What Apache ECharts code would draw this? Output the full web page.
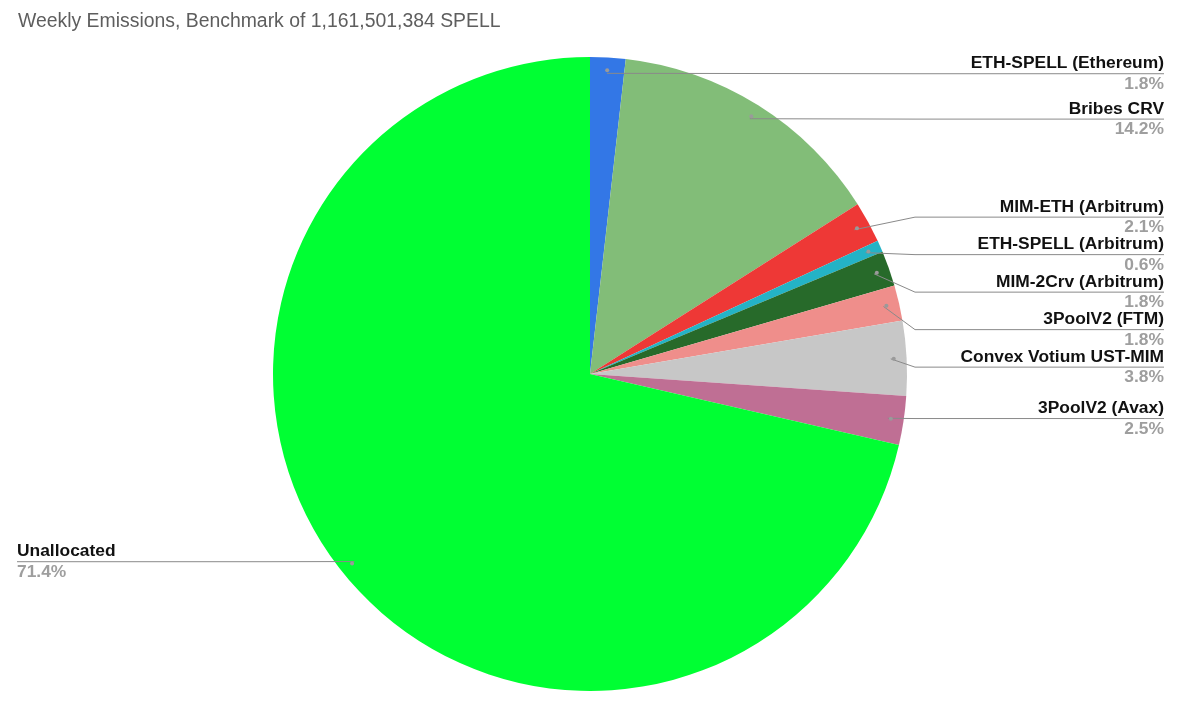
<!DOCTYPE html>
<html>
<head>
<meta charset="utf-8">
<script src="https://cdn.jsdelivr.net/npm/echarts@6/dist/echarts.min.js"></script>
<style>
html,body{margin:0;padding:0;background:#fff;}
#main{width:1200px;height:705px;}
</style>
</head>
<body>
<div id="main"></div>
<script>
var titleText = 'Weekly Emissions, Benchmark of 1,161,501,384 SPELL';
var categories = ['ETH-SPELL (Ethereum)', 'Bribes CRV', 'MIM-ETH (Arbitrum)', 'ETH-SPELL (Arbitrum)', 'MIM-2Crv (Arbitrum)', '3PoolV2 (FTM)', 'Convex Votium UST-MIM', '3PoolV2 (Avax)', 'Unallocated'];
var shares = [1.8, 14.2, 2.1, 0.6, 1.8, 1.8, 3.8, 2.5, 71.4];
var colors = ['#3377e6', '#82bd78', '#ee3836', '#24b3c6', '#276a2a', '#ef8e8b', '#c7c7c7', '#bf6f94', '#00ff33'];
// label line lengths per slice (layout only)
var lineLens = [-16, -16, 11, 11, 11, 11, 11, -16, -16];

var CX = 590, CY = 374, R = 317;
var FONT = 'Liberation Sans, Arial, sans-serif';

var chart = echarts.init(document.getElementById('main'));

var sliceData = categories.map(function (c, i) {
  return { name: c, value: shares[i], itemStyle: { color: colors[i] } };
});
var labelData = categories.map(function (c, i) {
  var item = { name: c, value: shares[i], labelLine: { length: lineLens[i] } };
  if (c === 'Unallocated') item.label = { edgeDistance: 17 };
  return item;
});
var dotData = categories.map(function (c, i) {
  return { name: c, value: shares[i] };
});

chart.setOption({
  animation: false,
  backgroundColor: '#ffffff',
  title: {
    text: titleText,
    left: 13,
    top: 7,
    textStyle: { fontFamily: FONT, fontSize: 19.4, fontWeight: 'normal', color: '#5e5e5e' }
  },
  series: [
    {
      type: 'pie',
      z: 2,
      center: [CX, CY],
      radius: R,
      startAngle: 90,
      clockwise: true,
      silent: true,
      data: sliceData,
      itemStyle: { borderWidth: 0 },
      label: { show: false },
      labelLine: { show: false }
    },
    {
      type: 'pie',
      z: 3,
      center: [CX, CY],
      radius: R,
      startAngle: 90,
      clockwise: true,
      silent: true,
      avoidLabelOverlap: true,
      data: labelData,
      itemStyle: { color: 'rgba(0,0,0,0)', borderWidth: 0 },
      label: {
        show: true,
        position: 'outside',
        alignTo: 'edge',
        edgeDistance: 36,
        minMargin: 0,
        formatter: function (p) {
          return '{n|' + p.name + '}\n{p|' + p.value.toFixed(1) + '%}';
        },
        rich: {
          n: { fontFamily: FONT, fontSize: 17.4, fontWeight: 'bold', color: '#111111', lineHeight: 21 },
          p: { fontFamily: FONT, fontSize: 17.4, fontWeight: 'bold', color: '#9e9e9e', lineHeight: 20 }
        }
      },
      labelLine: {
        show: true,
        length: 0,
        length2: 0,
        lineStyle: { color: '#8a8a8a', width: 1 }
      },
      labelLayout: function (params) {
        var pts = params.labelLinePoints;
        if (!pts) return {};
        var p0 = pts[0];
        var ax = CX + (p0[0] - CX) * 0.95;
        var ay = CY + (p0[1] - CY) * 0.95;
        var r = params.labelRect;
        var ly = r.y + r.height / 2;
        var isLeft = r.x + r.width / 2 < CX;
        var kx = isLeft ? Math.min(ax, CX - R - 8) : Math.max(ax, CX + R + 8);
        var ex = isLeft ? r.x : r.x + r.width;
        return { labelLinePoints: [[ax, ay], [kx, ly], [ex, ly]] };
      }
    },
    {
      type: 'pie',
      z: 4,
      center: [CX, CY],
      radius: [R * 0.9, R],
      startAngle: 90,
      clockwise: true,
      silent: true,
      data: dotData,
      itemStyle: { color: 'rgba(0,0,0,0)', borderWidth: 0 },
      labelLine: { show: false },
      label: {
        show: true,
        position: 'inside',
        formatter: '{d| }',
        rich: {
          d: { width: 4, height: 4, borderRadius: 2, backgroundColor: '#9a9a9a', fontSize: 1, lineHeight: 4 }
        }
      }
    }
  ]
});
</script>
</body>
</html>
